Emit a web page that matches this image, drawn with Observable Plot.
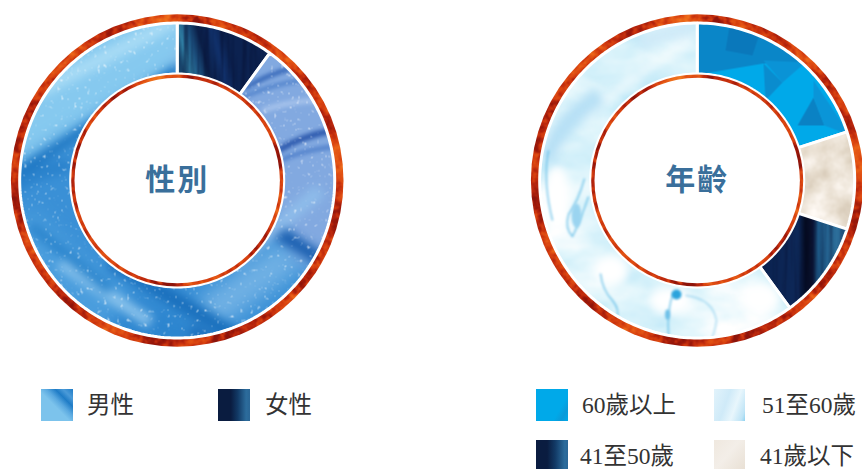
<!DOCTYPE html>
<html lang="zh-Hant">
<head>
<meta charset="utf-8">
<title>性別與年齡分布</title>
<script src="https://cdn.jsdelivr.net/npm/d3@7"></script>
<script src="https://cdn.jsdelivr.net/npm/@observablehq/plot@0.6"></script>
<style>
  html, body { margin: 0; padding: 0; background: #fff; }
  #page { position: relative; width: 862px; height: 469px; overflow: hidden; background: #fff; }
  #page svg.donut { position: absolute; top: 0; }
  #page svg.donut text { letter-spacing: 2px; }
  .key { position: absolute; display: flex; align-items: center; height: 32px;
         font: 400 23.5px "Liberation Serif", "Noto Sans CJK TC", serif; color: #333; white-space: nowrap; }
  .swatch { position: absolute; left: 0; top: 0; width: 31.5px; height: 32px; }
  .key span { position: absolute; top: 0; line-height: 32px; }
</style>
</head>
<body>
<div id="page"></div>
<script>
// Survey composition, listed clockwise from twelve o'clock.
const genderLabels = ["女性", "男性"];
const genderShares = [10, 90];
const ageLabels = ["60歲以上", "41歲以下", "41至50歲", "51至60歲"];
const ageShares = [20, 10, 10, 60];

// Legend reading order.
const genderKeys = ["男性", "女性"];
const ageKeys = ["60歲以上", "51至60歲", "41至50歲", "41歲以下"];

const textureIds = {
  "女性": "tex-navy", "男性": "tex-waves",
  "60歲以上": "tex-facets", "41歲以下": "tex-stone", "41至50歲": "tex-indigo", "51至60歲": "tex-marble"
};
const swatchStyles = {
  "男性": "linear-gradient(45deg,#7cc3ec 0 45%,#5aa9e0 58%,#1f7cc6 72%,#4a9ad8 84%,#1f7cc6 100%)",
  "女性": "linear-gradient(90deg,#0a1c40 0 40%,#123a66 62%,#2c6c9c 88%,#2a6696 100%)",
  "60歲以上": "linear-gradient(120deg,#00a9e9 0 70%,#0a9ad9 85%,#00a9e9 100%)",
  "51至60歲": "linear-gradient(110deg,#e2f3fb 0,#cfeaf8 40%,#e8f6fc 65%,#bfe4f6 90%,#8fd2f0 100%)",
  "41至50歲": "linear-gradient(90deg,#0a1c40 0 35%,#123a66 60%,#2c6c9c 90%,#2a6696 100%)",
  "41歲以下": "linear-gradient(130deg,#efe8df 0,#f3eee8 45%,#e8dfd3 100%)"
};

// Ring geometry, in pixels from the donut centre.
const width = 354, height = 360, cx = 176.7, cy = 180;
const rim = {outer: 166.3, inner: 158};
const band = {outer: 157.5, inner: 106.5};
const core = {outer: 106, inner: 102.7};

// Paint the fills once; both charts refer to them by id.
const defs = document.createElementNS("http://www.w3.org/2000/svg", "svg");
defs.setAttribute("width", 0);
defs.setAttribute("height", 0);
defs.style.position = "absolute";
const tile = `patternUnits="userSpaceOnUse" x="0" y="0" width="${width}" height="${height}"`;
const full = `x="0" y="0" width="${width}" height="${height}"`;
const region = `filterUnits="userSpaceOnUse" ${full} color-interpolation-filters="sRGB"`;
defs.innerHTML = `
<defs>
  <filter id="fire" ${region}>
    <feTurbulence type="fractalNoise" baseFrequency="0.16" numOctaves="3" seed="7" result="fine"/>
    <feTurbulence type="fractalNoise" baseFrequency="0.022" numOctaves="2" seed="4" result="broad"/>
    <feComposite in="fine" in2="broad" operator="arithmetic" k1="0" k2="0.55" k3="0.75" k4="-0.15"/>
    <feColorMatrix type="matrix" values="1 0 0 0 0  1 0 0 0 0  1 0 0 0 0  0 0 0 0 1"/>
    <feComponentTransfer>
      <feFuncR type="table" tableValues="0.55 0.62 0.74 0.84 0.89 0.93 0.95 0.97 0.98"/>
      <feFuncG type="table" tableValues="0.08 0.1 0.16 0.25 0.33 0.42 0.5 0.58 0.72"/>
      <feFuncB type="table" tableValues="0.04 0.04 0.05 0.06 0.08 0.1 0.13 0.18 0.35"/>
    </feComponentTransfer>
  </filter>
  <filter id="soft2" ${region}><feGaussianBlur stdDeviation="2"/></filter>
  <filter id="soft1" ${region}><feGaussianBlur stdDeviation="1"/></filter>
  <filter id="soft5" ${region}><feGaussianBlur stdDeviation="5"/></filter>
  <filter id="soft9" ${region}><feGaussianBlur stdDeviation="9"/></filter>
  <filter id="specks" ${region}>
    <feTurbulence type="fractalNoise" baseFrequency="0.3 0.22" numOctaves="2" seed="11"/>
    <feColorMatrix type="matrix" values="0 0 0 0 1  0 0 0 0 1  0 0 0 0 1  9 0 0 0 -6.1"/>
  </filter>
  <filter id="fibres" ${region}>
    <feTurbulence type="fractalNoise" baseFrequency="0.22 0.012" numOctaves="2" seed="3"/>
    <feColorMatrix type="matrix" values="0 0 0 0 0.02  0 0 0 0 0.06  0 0 0 0 0.2  3 0 0 0 -1.2"/>
  </filter>
  <filter id="clouds" ${region}>
    <feTurbulence type="fractalNoise" baseFrequency="0.035" numOctaves="4" seed="9"/>
    <feColorMatrix type="matrix" values="1 0 0 0 0  1 0 0 0 0  1 0 0 0 0  0 0 0 0 1"/>
    <feComponentTransfer>
      <feFuncR type="table" tableValues="0.8 0.85 0.9 0.95 1 1"/>
      <feFuncG type="table" tableValues="0.76 0.8 0.86 0.92 0.98 1"/>
      <feFuncB type="table" tableValues="0.68 0.73 0.8 0.88 0.96 1"/>
    </feComponentTransfer>
  </filter>
  <filter id="swirls" ${region}>
    <feTurbulence type="fractalNoise" baseFrequency="0.012 0.02" numOctaves="4" seed="21"/>
    <feColorMatrix type="matrix" values="1 0 0 0 0  1 0 0 0 0  1 0 0 0 0  0 0 0 0 1"/>
    <feComponentTransfer>
      <feFuncR type="table" tableValues="0.62 0.72 0.82 0.9 1 1"/>
      <feFuncG type="table" tableValues="0.86 0.9 0.94 0.97 1 1"/>
      <feFuncB type="table" tableValues="0.96 0.97 0.98 0.99 1 1"/>
    </feComponentTransfer>
  </filter>

  <linearGradient id="navy-sweep" gradientUnits="userSpaceOnUse" x1="177" y1="50" x2="272" y2="25">
    <stop offset="0" stop-color="#1c5078"/><stop offset="0.07" stop-color="#2f7ea3"/>
    <stop offset="0.16" stop-color="#1b4e7c"/><stop offset="0.25" stop-color="#0b1f48"/>
    <stop offset="0.4" stop-color="#10306a"/><stop offset="0.5" stop-color="#0b214f"/>
    <stop offset="1" stop-color="#0e2554"/>
  </linearGradient>
  <linearGradient id="indigo-sweep" gradientUnits="userSpaceOnUse" x1="240" y1="0" x2="330" y2="0">
    <stop offset="0" stop-color="#0a2250"/><stop offset="0.42" stop-color="#0d2858"/>
    <stop offset="0.5" stop-color="#03081c"/><stop offset="0.58" stop-color="#0a1230"/>
    <stop offset="0.64" stop-color="#1c5684"/><stop offset="0.85" stop-color="#2c6e9a"/>
    <stop offset="1" stop-color="#1f5080"/>
  </linearGradient>

  <pattern id="fire-rim" ${tile}><rect ${full} filter="url(#fire)"/></pattern>

  <pattern id="tex-waves" ${tile}>
    <rect ${full} fill="#3a90d6"/>
    <g filter="url(#soft9)" fill="none" stroke-linecap="butt">
      <path d="M-10,125 L190,5" stroke="#86c9ef" stroke-width="95"/>
      <path d="M225,30 L354,240" stroke="#82a9e0" stroke-width="115"/>
      <path d="M10,230 L110,320" stroke="#4a9ddd" stroke-width="60"/>
      <path d="M205,315 L290,255" stroke="#6fb0e4" stroke-width="34"/>
      <path d="M120,310 L210,345" stroke="#2c85cf" stroke-width="38"/>
    </g>
    <g filter="url(#soft5)" fill="none">
      <path d="M10,178 L178,68" stroke="#1a73c0" stroke-width="9"/>
      <path d="M-5,200 Q30,170 70,165" stroke="#2a82cc" stroke-width="14"/>
      <path d="M40,90 L175,20" stroke="#a8dbf5" stroke-width="14"/>
      <path d="M60,262 L150,322" stroke="#8ac3ec" stroke-width="12"/>
      <path d="M110,260 L250,345" stroke="#1a70bd" stroke-width="16"/>
      <path d="M30,225 L110,290" stroke="#2a84cc" stroke-width="10"/>
      <path d="M275,230 L325,262" stroke="#1a5fb0" stroke-width="14"/>
      <path d="M232,262 L320,190" stroke="#8ebcea" stroke-width="14"/>
      <path d="M190,330 L230,350" stroke="#1d6fbc" stroke-width="12"/>
    </g>
    <g filter="url(#soft2)" fill="none">
      <path d="M244,88 Q265,75 290,68" stroke="#2a5db2" stroke-width="4"/>
      <path d="M240,98 Q270,84 300,80" stroke="#3f75c4" stroke-width="3"/>
      <path d="M278,150 Q300,136 332,130" stroke="#2a57ac" stroke-width="6"/>
      <path d="M280,160 Q300,150 335,146" stroke="#4a7bc8" stroke-width="4"/>
      <path d="M262,110 Q290,100 320,100" stroke="#a8c4ec" stroke-width="5"/>
    </g>
    <rect ${full} filter="url(#specks)" opacity="0.55"/>
  </pattern>

  <pattern id="tex-navy" ${tile}>
    <rect ${full} fill="url(#navy-sweep)"/>
    <rect ${full} filter="url(#fibres)" opacity="0.5"/>
  </pattern>

  <pattern id="tex-facets" ${tile}>
    <rect ${full} fill="#00a9e9"/>
    <polygon points="170,15 258,15 283,62 243,63 178,74" fill="#0a86c8"/>
    <polygon points="210,20 240,30 232,55 205,50" fill="#0a78bb"/>
    <polygon points="243,63 262,82 245,100" fill="#0a8cce"/>
    <polygon points="243,60 285,62 262,82" fill="#0a93d6"/>
    <polygon points="277,125 293,97 304,125" fill="#0a82c4"/>
    <polygon points="293,80 330,135 304,125 293,97" fill="#0a95d8"/>
    <polygon points="240,100 293,80 277,125" fill="#00a9e9"/>
  </pattern>

  <pattern id="tex-stone" ${tile}><rect ${full} filter="url(#clouds)"/></pattern>

  <pattern id="tex-indigo" ${tile}>
    <rect ${full} fill="url(#indigo-sweep)"/>
    <rect ${full} filter="url(#fibres)" opacity="0.35"/>
  </pattern>

  <pattern id="tex-marble" ${tile}>
    <rect ${full} filter="url(#swirls)"/>
    <g filter="url(#soft5)" fill="#fff">
      <ellipse cx="36" cy="198" rx="14" ry="34"/>
      <ellipse cx="32" cy="145" rx="8" ry="10"/>
      <ellipse cx="90" cy="270" rx="18" ry="16"/>
      <ellipse cx="150" cy="300" rx="22" ry="14"/>
      <ellipse cx="240" cy="298" rx="20" ry="16"/>
    </g>
    <g filter="url(#soft5)" fill="none">
      <path d="M60,120 Q120,70 170,40" stroke="#fff" stroke-width="8" opacity="0.6"/>
      <path d="M25,160 Q40,120 80,95" stroke="#b7e0f5" stroke-width="18"/>
      <path d="M120,45 Q140,30 172,30" stroke="#cfeaf8" stroke-width="14"/>
    </g>
    <g filter="url(#soft1)" fill="none" stroke="#63bde6" stroke-width="1.3">
      <path d="M64,178 Q58,200 48,214 Q44,228 52,236 Q60,220 68,196"/>
      <path d="M28,150 Q22,180 32,220"/>
      <path d="M80,273 Q82,290 92,300 Q100,310 96,318"/>
      <path d="M153,292 Q146,310 148,335"/>
      <path d="M165,295 Q192,298 196,320 Q194,334 190,340" stroke="#9fd6f0"/>
    </g>
    <g filter="url(#soft1)" fill="#2ba3dc">
      <ellipse cx="156" cy="294" rx="5" ry="5"/>
      <ellipse cx="147" cy="314" rx="2.5" ry="5" fill="#6cc0e8"/>
      <ellipse cx="56" cy="215" rx="5" ry="12" fill="#9ad4f0"/>
    </g>
  </pattern>
</defs>`;

const page = document.getElementById("page");
page.appendChild(defs);

// Annular sector outline for one slice, as points the line mark closes.
function sectorPoints(start, end, label) {
  const steps = Math.max(2, Math.ceil((end - start) * 3));
  const angle = i => (start + (end - start) * i / steps) / 100 * 2 * Math.PI;
  const outer = d3.range(steps + 1).map(i => ({label, x: band.outer * Math.sin(angle(i)), y: band.outer * Math.cos(angle(i))}));
  const inner = d3.range(steps, -1, -1).map(i => ({label, x: band.inner * Math.sin(angle(i)), y: band.inner * Math.cos(angle(i))}));
  return outer.concat(inner);
}

function donut(labels, shares, title) {
  const cumulative = d3.cumsum(shares);
  const total = cumulative[cumulative.length - 1];
  const slices = labels.map((label, i) => {
    const start = (i ? cumulative[i - 1] : 0) / total * 100;
    const end = cumulative[i] / total * 100;
    return Plot.line(sectorPoints(start, end, label), {
      x: "x", y: "y", curve: "linear-closed",
      fill: `url(#${textureIds[label]})`, stroke: "#fff", strokeWidth: 3, strokeLinejoin: "miter"
    });
  });
  const disc = (r, fill) => Plot.dot([[0, 0]], {x: d => d[0], y: d => d[1], r, fill});
  return Plot.plot({
    width, height, margin: 0,
    className: "donut",
    x: {domain: [-cx, width - cx], axis: null},
    y: {domain: [-cy, height - cy], axis: null},
    marks: [
      disc(rim.outer, "url(#fire-rim)"),
      disc(rim.inner, "#fff"),
      ...slices,
      disc(core.outer, "url(#fire-rim)"),
      disc(core.inner, "#fff"),
      Plot.text([title], {
        x: () => 0, y: () => 0, text: d => d,
        fontSize: 30, fontWeight: 700, fill: "#3a6f9b",
        fontFamily: "'Noto Sans CJK TC', 'Liberation Serif', serif"
      })
    ]
  });
}

const left = donut(genderLabels, genderShares, "性別");
left.style.left = "0px";
page.appendChild(left);
const right = donut(ageLabels, ageShares, "年齡");
right.style.left = "520px";
page.appendChild(right);

// Legend rows sit below the charts.
function addKey(label, swatchX, rowY, textX) {
  const key = document.createElement("div");
  key.className = "key";
  key.style.left = swatchX + "px";
  key.style.top = rowY + "px";
  const swatch = document.createElement("div");
  swatch.className = "swatch";
  swatch.style.background = swatchStyles[label];
  const text = document.createElement("span");
  text.textContent = label;
  text.style.left = (textX - swatchX) + "px";
  key.append(swatch, text);
  page.appendChild(key);
}
addKey(genderKeys[0], 41, 389, 87);
addKey(genderKeys[1], 218, 389, 265);
addKey(ageKeys[0], 536, 389, 582);
addKey(ageKeys[1], 713.5, 389, 762);
addKey(ageKeys[2], 536, 440, 580);
addKey(ageKeys[3], 713.5, 440, 760);
</script>
</body>
</html>
